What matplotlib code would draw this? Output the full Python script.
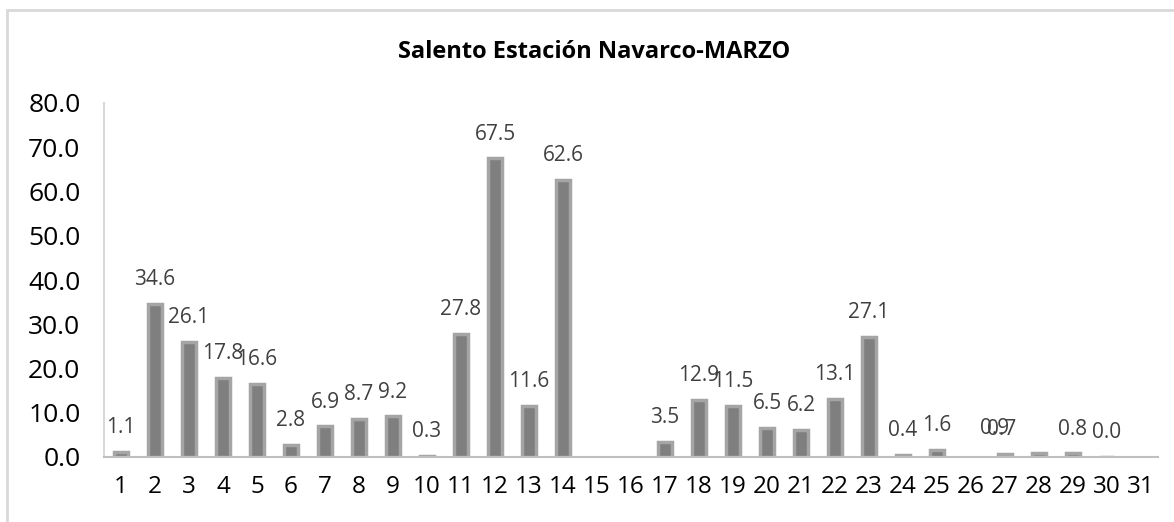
import matplotlib
matplotlib.use("Agg")
import matplotlib.pyplot as plt
from matplotlib.patches import Rectangle

days = list(range(1, 32))
values = [1.1, 34.6, 26.1, 17.8, 16.6, 2.8, 6.9, 8.7, 9.2, 0.3, 27.8, 67.5, 11.6, 62.6,
          None, None, 3.5, 12.9, 11.5, 6.5, 6.2, 13.1, 27.1, 0.4, 1.6, None, 0.7, 0.9, 0.8, 0.0, None]
yticks = [0, 10, 20, 30, 40, 50, 60, 70, 80]
title = "Salento Estación Navarco-MARZO"

plt.rcParams['font.family'] = ['Open Sans', 'DejaVu Sans']

fig = plt.figure(figsize=(11.74, 5.22), dpi=100)
fig.patches.append(Rectangle((7/1174, -0.1), 1.2, (1 - 10/522) + 0.1, transform=fig.transFigure,
                             fill=False, edgecolor='#d9d9d9', linewidth=2))
ax = fig.add_axes([104/1174, 1 - 457/522, 1054/1174, (457 - 103)/522])

xs = [d for d, v in zip(days, values) if v is not None]
vs = [v for v in values if v is not None]
ax.bar(xs, vs, width=0.44, color='#7f7f7f', edgecolor='#a5a5a5', linewidth=2.5)

# Excel placed the labels of days 27 and 28 on top of each other
label_offsets = {27: -0.1, 28: -1.3}
for d, v in zip(xs, vs):
    xo = label_offsets.get(d, 0)
    ax.annotate(f"{v:.1f}", (d + xo, v), xytext=(0, 13.5), textcoords='offset points',
                ha='center', va='baseline', fontsize=15, color='#404040')

ax.set_xlim(0.5, 31.5)
ax.set_ylim(0, 80)
ax.set_yticks(yticks)
ax.set_yticklabels([f"{t:.1f}" for t in yticks], fontsize=19, color='#000000')
ax.set_xticks(days)
ax.set_xticklabels([str(d) for d in days], fontsize=17.5, color='#000000')
ax.tick_params(axis='both', length=0)
ax.tick_params(axis='x', pad=13)
ax.tick_params(axis='y', pad=17)
for s in ['top', 'right']:
    ax.spines[s].set_visible(False)
ax.spines['left'].set_color('#d9d9d9')
ax.spines['left'].set_linewidth(1.5)
ax.spines['bottom'].set_color('#bfbfbf')
ax.spines['bottom'].set_linewidth(1.5)

fig.text(594/1174, 1 - 52/522, title, ha='center', va='center', fontsize=17, fontweight='bold')

fig.savefig("out.png", dpi=100)
